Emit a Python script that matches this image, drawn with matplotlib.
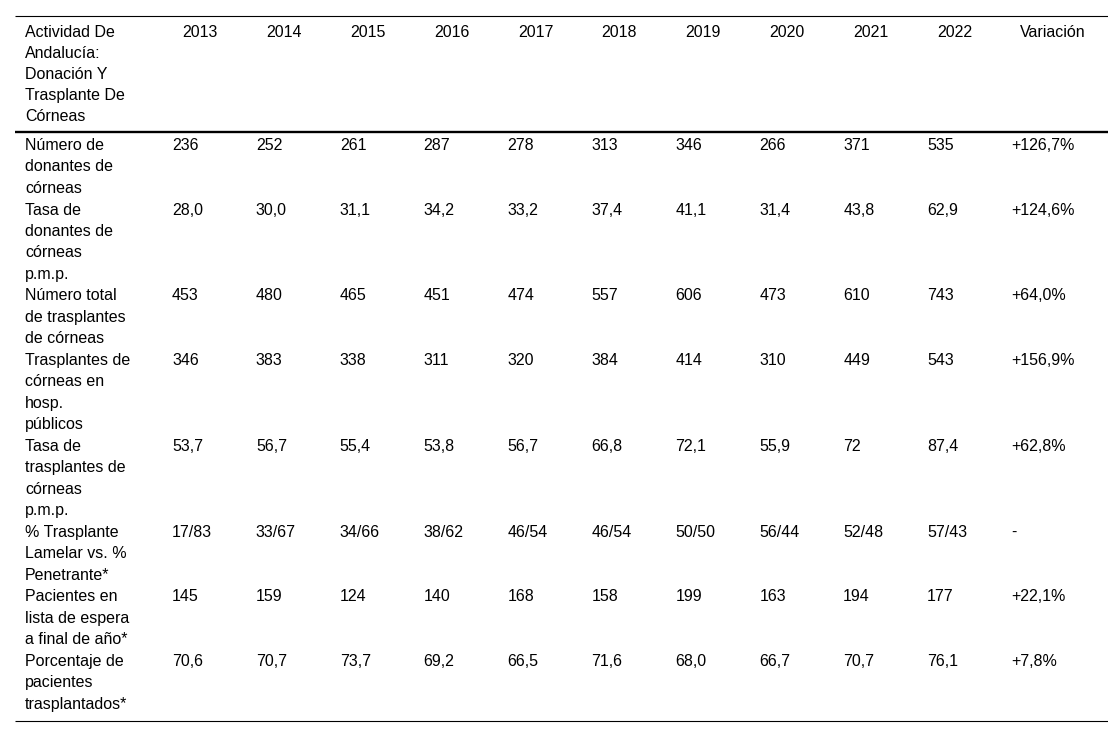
import matplotlib
matplotlib.use("Agg")
import matplotlib.pyplot as plt

plt.rcParams['font.family'] = ['Liberation Sans', 'DejaVu Sans']

# table content
header_label = "Actividad De\nAndalucía:\nDonación Y\nTrasplante De\nCórneas"
years = ["2013", "2014", "2015", "2016", "2017", "2018", "2019", "2020", "2021", "2022"]
var_label = "Variación"

row_labels = [
    "Número de\ndonantes de\ncórneas",
    "Tasa de\ndonantes de\ncórneas\np.m.p.",
    "Número total\nde trasplantes\nde córneas",
    "Trasplantes de\ncórneas en\nhosp.\npúblicos",
    "Tasa de\ntrasplantes de\ncórneas\np.m.p.",
    "% Trasplante\nLamelar vs. %\nPenetrante*",
    "Pacientes en\nlista de espera\na final de año*",
    "Porcentaje de\npacientes\ntrasplantados*",
]

donantes = ["236", "252", "261", "287", "278", "313", "346", "266", "371", "535"]
tasa_donantes = ["28,0", "30,0", "31,1", "34,2", "33,2", "37,4", "41,1", "31,4", "43,8", "62,9"]
total_trasplantes = ["453", "480", "465", "451", "474", "557", "606", "473", "610", "743"]
hosp_publicos = ["346", "383", "338", "311", "320", "384", "414", "310", "449", "543"]
tasa_trasplantes = ["53,7", "56,7", "55,4", "53,8", "56,7", "66,8", "72,1", "55,9", "72", "87,4"]
lamelar_penetrante = ["17/83", "33/67", "34/66", "38/62", "46/54", "46/54", "50/50", "56/44", "52/48", "57/43"]
lista_espera = ["145", "159", "124", "140", "168", "158", "199", "163", "194", "177"]
pct_trasplantados = ["70,6", "70,7", "73,7", "69,2", "66,5", "71,6", "68,0", "66,7", "70,7", "76,1"]
variacion = ["+126,7%", "+124,6%", "+64,0%", "+156,9%", "+62,8%", "-", "+22,1%", "+7,8%"]

rows = [donantes, tasa_donantes, total_trasplantes, hosp_publicos,
        tasa_trasplantes, lamelar_penetrante, lista_espera, pct_trasplantados]

# layout (pixels)
W, H = 1108, 737
FS = 11.5
col0_x = 25
col_left = 172      # left edge of data text, first year column
col_step = 83.9
head_center = 200   # centre of first year header
var_center = 1053
var_left = 1011
lh_head = 20.9
lh = 21.4
row_gap = 0.3
cap_half = 5.7

fig = plt.figure(figsize=(W / 100, H / 100), dpi=100)
ax = fig.add_axes([0, 0, 1, 1])
ax.set_xlim(0, W)
ax.set_ylim(H, 0)
ax.axis('off')


def put_lines(x, y0, text, step, ha='left'):
    for i, line in enumerate(text.split("\n")):
        ax.text(x, y0 + i * step + cap_half, line, ha=ha, va='baseline',
                fontsize=FS, color='black')


# rules
ax.plot([15, W], [15.5, 15.5], color='black', lw=0.8, solid_capstyle='butt')
ax.plot([15, W], [131.5, 131.5], color='black', lw=1.7, solid_capstyle='butt')
ax.plot([15, W], [721, 721], color='black', lw=0.8, solid_capstyle='butt')

# header
y_head = 31.6
put_lines(col0_x, y_head, header_label, lh_head)
for j, yr in enumerate(years):
    ax.text(head_center + j * col_step, y_head + cap_half, yr, ha='center',
            va='baseline', fontsize=FS, color='black')
ax.text(var_center, y_head + cap_half, var_label, ha='center', va='baseline',
        fontsize=FS, color='black')

# body
y = 144.3
for label, vals, var in zip(row_labels, rows, variacion):
    put_lines(col0_x, y, label, lh)
    for j, v in enumerate(vals):
        ax.text(col_left + j * col_step, y + cap_half, v, ha='left',
                va='baseline', fontsize=FS, color='black')
    ax.text(var_left, y + cap_half, var, ha='left', va='baseline',
            fontsize=FS, color='black')
    y += label.count("\n") * lh + lh + row_gap

fig.savefig("out.png", dpi=100)
